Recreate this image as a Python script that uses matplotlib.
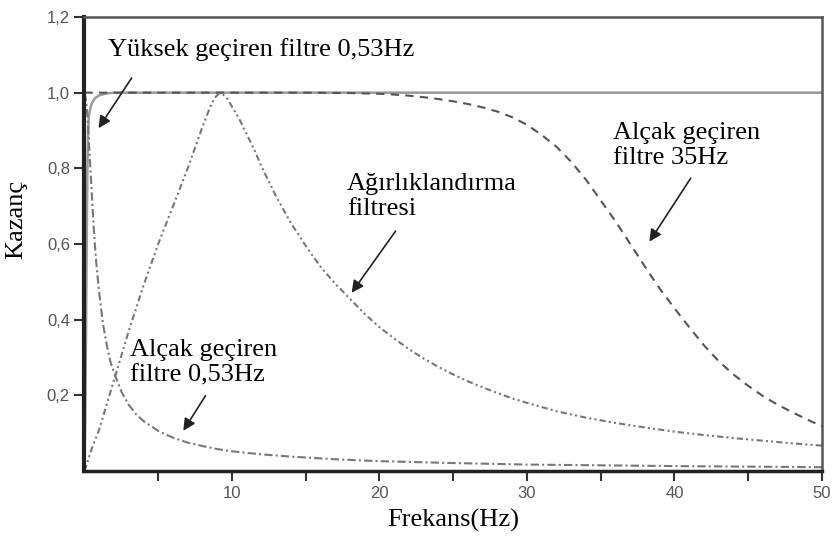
import numpy as np
import matplotlib.pyplot as plt
from matplotlib.ticker import FixedLocator

# okunan degerler (frekans Hz, kazanc)
hp_f = [0.0, 0.05, 0.1, 0.15, 0.2, 0.25, 0.3, 0.4, 0.5, 0.7, 1.0, 1.5, 2.0, 50]
hp_k = [0.0, 0.15, 0.35, 0.6, 0.8, 0.9, 0.94, 0.96, 0.972, 0.985, 0.993, 0.998, 1.0, 1.0]

lp053_f = [0, 0.1, 0.2, 0.3, 0.4, 0.5, 0.6, 0.7, 0.8, 1, 1.25, 1.5, 1.75, 2, 2.5, 3, 3.5,
           4, 5, 6, 7, 8, 9, 10, 12, 14, 17, 20, 25, 30, 40, 50]
lp053_k = [1.0, 0.98, 0.94, 0.87, 0.8, 0.73, 0.66, 0.6, 0.55, 0.47, 0.39, 0.335, 0.29,
           0.26, 0.21, 0.175, 0.15, 0.132, 0.106, 0.088, 0.075, 0.066, 0.058, 0.052,
           0.044, 0.038, 0.031, 0.026, 0.021, 0.017, 0.013, 0.01]

w_f = [0, 0.5, 1, 1.5, 2, 3, 4, 5, 6, 7, 7.5, 8, 8.5, 8.8, 9.1, 9.4, 9.7, 10, 10.5, 11,
       11.5, 12, 13, 14, 15, 16, 17, 18, 19, 20, 21, 22, 23, 24, 25, 26, 27, 28, 29, 30,
       32, 34, 36, 38, 40, 42, 44, 46, 48, 50]
w_k = [0, 0.06, 0.11, 0.175, 0.24, 0.37, 0.49, 0.6, 0.7, 0.8, 0.855, 0.91, 0.96, 0.985,
       0.997, 0.995, 0.983, 0.963, 0.93, 0.89, 0.85, 0.805, 0.725, 0.655, 0.595, 0.54,
       0.495, 0.455, 0.415, 0.38, 0.35, 0.322, 0.297, 0.275, 0.255, 0.237, 0.221, 0.206,
       0.192, 0.18, 0.158, 0.141, 0.127, 0.115, 0.104, 0.095, 0.087, 0.08, 0.073, 0.067]

lp35_f = [0, 5, 10, 15, 18, 20, 21, 22, 23, 24, 25, 26, 27, 28, 29, 30, 31, 32, 33, 34, 35,
          36, 37, 38, 39, 40, 41, 42, 43, 44, 45, 46, 47, 48, 49, 50]
lp35_k = [1, 1, 1, 1, 0.999, 0.997, 0.995, 0.992, 0.988, 0.983, 0.977, 0.97, 0.961, 0.95,
          0.935, 0.915, 0.888, 0.857, 0.817, 0.77, 0.715, 0.66, 0.6, 0.54, 0.482, 0.43,
          0.38, 0.332, 0.29, 0.255, 0.225, 0.198, 0.175, 0.155, 0.136, 0.118]

xticks = [10, 20, 30, 40, 50]
xminor = [5, 15, 25, 35, 45]
yticks = [0.2, 0.4, 0.6, 0.8, 1.0, 1.2]
ylabels = ['0,2', '0,4', '0,6', '0,8', '1,0', '1,2']

serif = 'Liberation Serif'

fig = plt.figure(figsize=(8.34, 5.41), dpi=100)
ax = fig.add_axes([0.1013, 0.1294, 0.8843, 0.8392])

ax.plot(hp_f, hp_k, color='#9a9a9a', lw=1.8, ls='-')
ax.plot(lp35_f, lp35_k, color='#555555', lw=1.5, ls=(0, (4, 3)))
ax.plot(w_f, w_k, color='#777777', lw=1.5, ls=(0, (3, 1.5, 1, 1.5, 1, 1.5)))
ax.plot(lp053_f, lp053_k, color='#777777', lw=1.5, ls=(0, (4, 1.5, 1, 1.5)))

ax.set_xlim(0, 50)
ax.set_ylim(0, 1.2)
ax.set_xticks(xticks)
ax.xaxis.set_minor_locator(FixedLocator(xminor))
ax.set_yticks(yticks)
ax.set_yticklabels(ylabels)
ax.tick_params(axis='both', which='both', direction='out', length=7, width=1.5,
               color='#333333', labelcolor='#555555', labelsize=12)
for lab in ax.get_xticklabels() + ax.get_yticklabels():
    lab.set_family('Liberation Sans')

ax.spines['left'].set_linewidth(3)
ax.spines['left'].set_color('#222222')
ax.spines['bottom'].set_linewidth(2.5)
ax.spines['bottom'].set_color('#222222')
for s in ['top', 'right']:
    ax.spines[s].set_linewidth(1.8)
    ax.spines[s].set_color('#555555')

ax.set_xlabel('Frekans(Hz)', family=serif, fontsize=19, labelpad=6)
ax.set_ylabel('Kazanç', family=serif, fontsize=19)
ax.yaxis.set_label_coords(-0.077, 0.555)

arrow = dict(arrowstyle='-|>', color='#222222', lw=1.2, mutation_scale=18)
ax.annotate('Yüksek geçiren filtre 0,53Hz', xy=(0.85, 0.9), xytext=(1.6, 1.115),
            family=serif, fontsize=19, va='center')
ax.annotate('', xy=(0.85, 0.9), xytext=(3.3, 1.045), arrowprops=arrow)

ax.annotate('Ağırlıklandırma\nfiltresi', xy=(17.9, 0.465), xytext=(17.8, 0.726),
            family=serif, fontsize=19, va='center', linespacing=1.2)
ax.annotate('', xy=(18.0, 0.465), xytext=(21.2, 0.64), arrowprops=arrow)

ax.annotate('Alçak geçiren\nfiltre 35Hz', xy=(38.2, 0.6), xytext=(35.8, 0.861),
            family=serif, fontsize=19, va='center', linespacing=1.2)
ax.annotate('', xy=(38.2, 0.6), xytext=(41.2, 0.78), arrowprops=arrow)

ax.annotate('Alçak geçiren\nfiltre 0,53Hz', xy=(6.6, 0.1), xytext=(3.1, 0.286),
            family=serif, fontsize=19, va='center', linespacing=1.2)
ax.annotate('', xy=(6.6, 0.1), xytext=(8.3, 0.205), arrowprops=arrow)

fig.savefig('out.png', dpi=100)
